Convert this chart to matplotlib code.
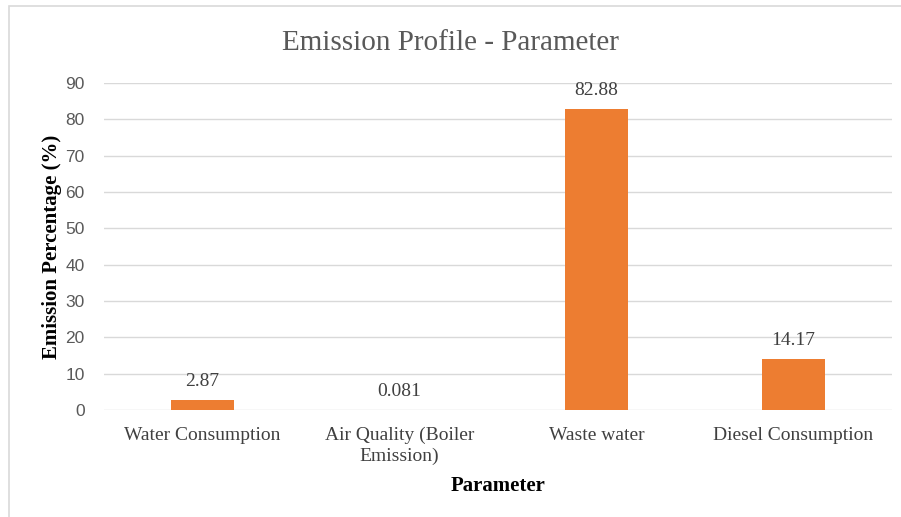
import matplotlib.pyplot as plt
from matplotlib.patches import Rectangle

categories = ["Water Consumption", "Air Quality (Boiler\nEmission)", "Waste water", "Diesel Consumption"]
values = [2.87, 0.081, 82.88, 14.17]
value_labels = ["2.87", "0.081", "82.88", "14.17"]
yticks = [0, 10, 20, 30, 40, 50, 60, 70, 80, 90]

serif = "Liberation Serif"
bar_color = "#ED7D31"
text_gray = "#595959"

fig = plt.figure(figsize=(9.01, 5.17), dpi=100)
# light chart border (cut off at right and bottom like the screenshot)
fig.patches.append(Rectangle((9 / 901, -0.05), 1.0, 1 - 6 / 517 + 0.05,
                             transform=fig.transFigure, fill=False,
                             edgecolor="#D9D9D9", linewidth=1.2))

ax = fig.add_axes([104 / 901, 1 - 410 / 517, 788 / 901, 327 / 517])
x = list(range(len(categories)))
ax.bar(x, values, width=0.315, color=bar_color, zorder=3)
ax.set_xlim(-0.5, len(categories) - 0.5)
ax.set_ylim(0, 90)
ax.set_yticks(yticks)
ax.grid(axis="y", color="#D9D9D9", linewidth=1, zorder=0)
for s in ax.spines.values():
    s.set_visible(False)
ax.tick_params(length=0)
ax.tick_params(axis="y", labelsize=12.5, labelcolor=text_gray, pad=14)
ax.set_yticklabels([str(t) for t in yticks], family="Liberation Sans")
ax.set_xticks(x)
ax.set_xticklabels(categories, family=serif, fontsize=14, color="#404040", linespacing=1.25)
ax.tick_params(axis="x", pad=12)

for xi, v, lab in zip(x, values, value_labels):
    ax.annotate(lab, (xi, v), xytext=(0, 7), textcoords="offset points",
                ha="center", va="bottom", family=serif, fontsize=14, color="#404040")

ax.set_xlabel("Parameter", family=serif, fontsize=15, fontweight="bold", labelpad=8)
ax.set_ylabel("Emission Percentage (%)", family=serif, fontsize=15, fontweight="bold", labelpad=2)
fig.text(0.5, 1 - 43 / 517, "Emission Profile - Parameter", ha="center", va="center",
         family=serif, fontsize=21, color=text_gray)

fig.savefig("out.png", dpi=100)
